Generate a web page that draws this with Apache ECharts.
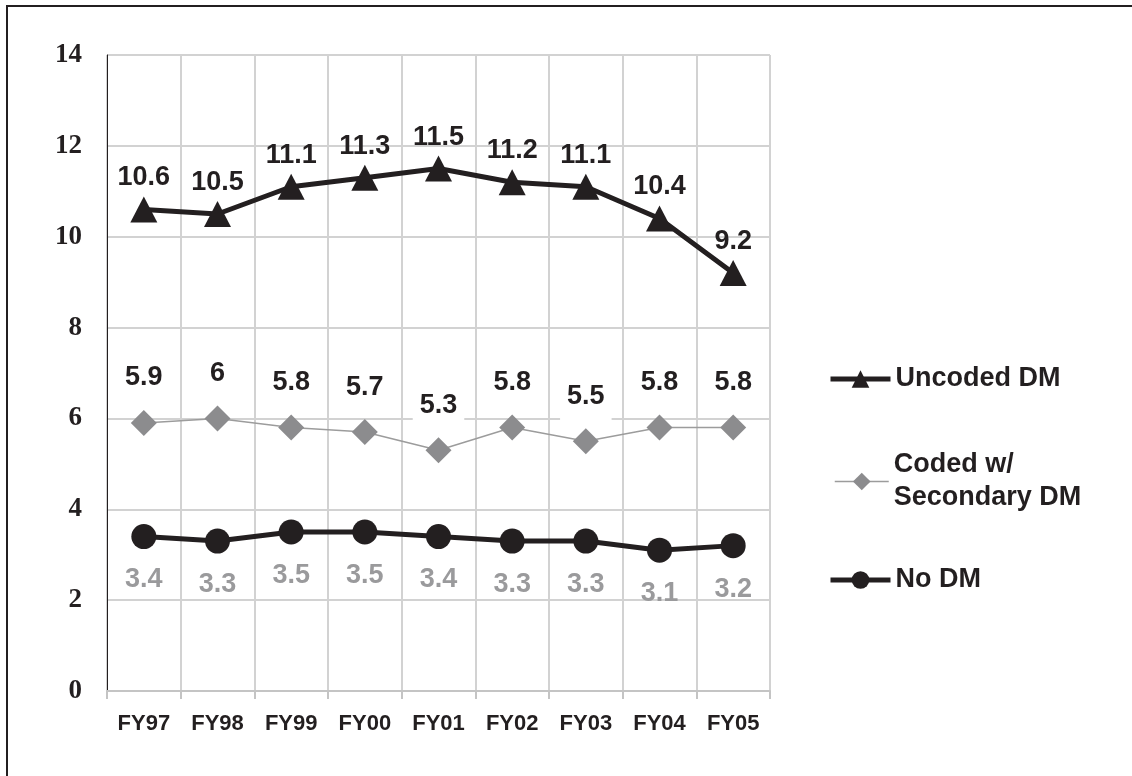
<!DOCTYPE html>
<html>
<head>
<meta charset="utf-8">
<title>DM trend FY97-FY05</title>
<script src="https://cdn.jsdelivr.net/npm/echarts@6/dist/echarts.min.js"></script>
<style>
  html, body { margin: 0; padding: 0; background: #ffffff; }
  #chart { width: 1132px; height: 776px; }
</style>
</head>
<body>
<div id="chart"></div>
<script>
// Fiscal years on the x axis
const years = ['FY97', 'FY98', 'FY99', 'FY00', 'FY01', 'FY02', 'FY03', 'FY04', 'FY05'];

// Series values
const uncodedDM = [10.6, 10.5, 11.1, 11.3, 11.5, 11.2, 11.1, 10.4, 9.2];
const codedSecondaryDM = [5.9, 6, 5.8, 5.7, 5.3, 5.8, 5.5, 5.8, 5.8];
const noDM = [3.4, 3.3, 3.5, 3.5, 3.4, 3.3, 3.3, 3.1, 3.2];

// Series names
const nameUncoded = 'Uncoded DM';
const nameCoded = 'Coded w/\nSecondary DM';
const nameNoDM = 'No DM';

const INK = '#231f20';
const GRID = '#d2d2d2';
const SANS = '"Liberation Sans", Arial, sans-serif';
const SERIF = '"Liberation Serif", "Times New Roman", serif';

const chart = echarts.init(document.getElementById('chart'), null, { renderer: 'canvas' });

const legendBase = {
  orient: 'vertical',
  left: 828,
  padding: 0,
  itemWidth: 60,
  itemHeight: 22,
  itemGap: 0,
  selectedMode: false,
  lineStyle: { width: 5 },
  textStyle: { fontFamily: SANS, fontWeight: 'bold', fontSize: 27, color: INK, lineHeight: 32 }
};

chart.setOption({
  animation: false,
  backgroundColor: '#ffffff',
  grid: { left: 107, top: 55, right: 362, bottom: 85, containLabel: false },
  legend: [
    Object.assign({}, legendBase, { top: 363, data: [nameUncoded] }),
    Object.assign({}, legendBase, {
      top: 432, left: 834, itemWidth: 54, data: [nameCoded],
      lineStyle: { width: 1.5 },
      textStyle: { fontFamily: SANS, fontWeight: 'bold', fontSize: 27, color: INK, lineHeight: 33, padding: [33, 0, 0, 0] }
    }),
    Object.assign({}, legendBase, { top: 564, data: [nameNoDM] })
  ],
  xAxis: {
    type: 'category',
    data: years,
    boundaryGap: true,
    axisLine: { show: true, lineStyle: { color: '#c4c4c4', width: 2 } },
    axisTick: { show: true, length: 8, lineStyle: { color: '#c4c4c4', width: 2 } },
    axisLabel: { fontFamily: SANS, fontWeight: 'bold', fontSize: 22, color: INK, margin: 22 },
    splitLine: { show: true, lineStyle: { color: GRID, width: 2 } }
  },
  yAxis: {
    type: 'value',
    min: 0,
    max: 14,
    interval: 2,
    axisLine: { show: true, lineStyle: { color: INK, width: 1 } },
    axisTick: { show: false },
    axisLabel: { fontFamily: SERIF, fontWeight: 'bold', fontSize: 27, color: INK, margin: 25 },
    splitLine: { show: true, lineStyle: { color: GRID, width: 2 } }
  },
  series: [
    {
      name: nameUncoded,
      type: 'line',
      data: uncodedDM,
      symbol: 'triangle',
      symbolSize: [27, 26],
      z: 4,
      lineStyle: { color: INK, width: 5 },
      itemStyle: { color: INK },
      label: {
        show: true, position: 'top', distance: 5,
        fontFamily: SANS, fontWeight: 'bold', fontSize: 27, lineHeight: 27, color: INK
      }
    },
    {
      name: nameCoded,
      type: 'line',
      data: codedSecondaryDM,
      symbol: 'diamond',
      symbolSize: 26,
      z: 3,
      lineStyle: { color: '#9c9c9c', width: 1.5 },
      itemStyle: { color: '#8c8c8e' },
      label: {
        show: true, position: 'top', distance: 6,
        fontFamily: SANS, fontWeight: 'bold', fontSize: 27, lineHeight: 26, color: INK,
        backgroundColor: '#ffffff', padding: [2, 7, 13, 7]
      }
    },
    {
      name: nameNoDM,
      type: 'line',
      data: noDM,
      symbol: 'circle',
      symbolSize: 25,
      z: 4,
      lineStyle: { color: INK, width: 5 },
      itemStyle: { color: INK },
      label: {
        show: true, position: 'bottom', distance: 18,
        fontFamily: SANS, fontWeight: 'bold', fontSize: 27, lineHeight: 26, color: '#9a9a9c'
      }
    }
  ],
  graphic: [
    { type: 'line', shape: { x1: 7, y1: 6, x2: 1132, y2: 6 }, style: { stroke: INK, lineWidth: 2 } },
    { type: 'line', shape: { x1: 7, y1: 5, x2: 7, y2: 776 }, style: { stroke: INK, lineWidth: 2 } }
  ]
});
</script>
</body>
</html>
